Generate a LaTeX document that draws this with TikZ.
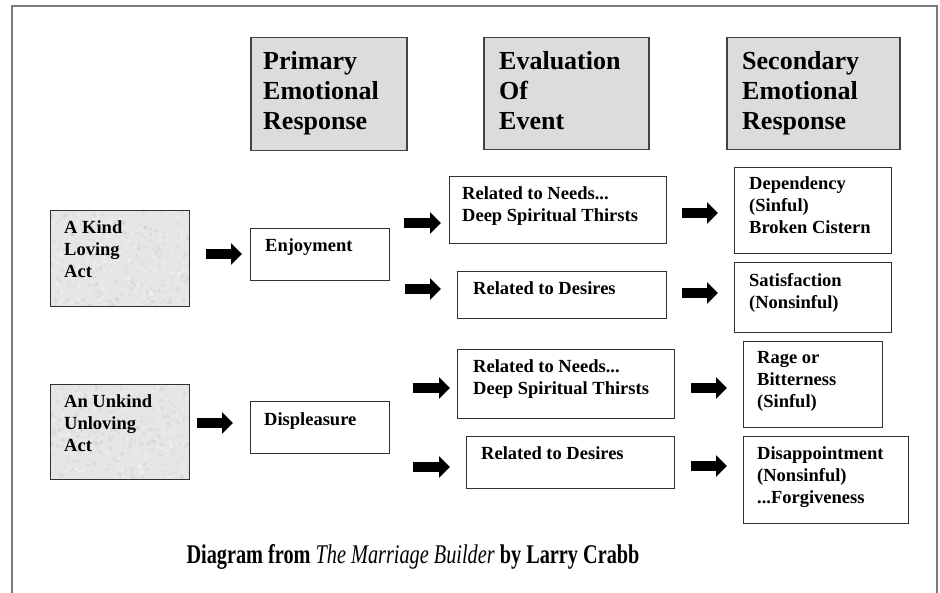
\documentclass[tikz,border=0pt]{standalone}
\usepackage{fontspec}
\setmainfont{Liberation Serif}
\usepackage{graphicx}
\usetikzlibrary{arrows.meta}
\definecolor{hdrfill}{HTML}{DCDCDC}
\definecolor{hdrline}{HTML}{3C463C}
\definecolor{boxline}{HTML}{303030}
\definecolor{framecol}{HTML}{7A7A7A}
\definecolor{stone}{HTML}{E6E6E6}
\begin{document}
\begin{tikzpicture}[x=1pt,y=-1pt,
  hdr/.style={draw=hdrline, fill=hdrfill, line width=1.5pt, inner sep=0pt, anchor=north west},
  box/.style={draw=boxline, fill=white, line width=1.4pt, inner sep=0pt, anchor=north west},
  stonebox/.style={draw=boxline, fill=stone, line width=1.4pt, inner sep=0pt, anchor=north west,
    path picture={
      \foreach \i in {1,...,900}{
        \pgfmathsetmacro\rx{140*rnd}
        \pgfmathsetmacro\ry{97*rnd}
        \pgfmathsetmacro\rr{0.6+1.6*rnd}
        \pgfmathtruncatemacro\rg{int(8+30*rnd)}
        \fill[gray!\rg, opacity=0.6] ([shift={(\rx,\ry)}]path picture bounding box.north west) circle (\rr);
      }
    }},
  hdrtxt/.style={anchor=base west, inner sep=0pt, font=\fontsize{26}{30}\selectfont\bfseries},
  txt/.style={anchor=base west, inner sep=0pt, font=\fontsize{18.5}{22}\selectfont\bfseries},
  blk/.style={line width=10pt, -{Triangle[length=11pt,width=21pt]}}
]
\useasboundingbox (0,0) rectangle (940,593);
\pgfmathsetseed{11}
% outer frame
\coordinate (fbl) at (12,593);
\coordinate (ftl) at (12,6);
\coordinate (ftr) at (937,6);
\coordinate (fbr) at (937,593);
\draw[framecol, line width=1.5pt] (fbl) -- (ftl) -- (ftr) -- (fbr);

% headers
\node[hdr, minimum width=156pt, minimum height=113pt] (h1) at (250,37) {};
\node[hdr, minimum width=165pt, minimum height=112pt] (h2) at (483,37) {};
\node[hdr, minimum width=173pt, minimum height=112pt] (h3) at (726,37) {};
\node[hdrtxt] (h1t) at (263,70) {\vtop{\hbox{Primary}\hbox{Emotional}\hbox{Response}}};
\node[hdrtxt] (h2t) at (499,70) {\vtop{\hbox{Evaluation}\hbox{Of}\hbox{Event}}};
\node[hdrtxt] (h3t) at (742,70) {\vtop{\hbox{Secondary}\hbox{Emotional}\hbox{Response}}};

% sources
\node[stonebox, minimum width=139pt, minimum height=96pt] (kind) at (50,210) {};
\node[stonebox, minimum width=139pt, minimum height=95pt] (unkind) at (50,384) {};
\node[txt] (kindt) at (64,234) {\vtop{\hbox{A Kind}\hbox{Loving}\hbox{Act}}};
\node[txt] (unkindt) at (64,408) {\vtop{\hbox{An Unkind}\hbox{Unloving}\hbox{Act}}};

% primary
\node[box, minimum width=139pt, minimum height=52pt] (enj) at (250,228) {};
\node[box, minimum width=139pt, minimum height=52pt] (dis) at (250,401) {};
\node[txt] (enjt) at (265,252) {Enjoyment};
\node[txt] (dist) at (264,426) {Displeasure};

% evaluation
\node[box, minimum width=217pt, minimum height=67pt] (n1) at (449,176) {};
\node[box, minimum width=209pt, minimum height=47pt] (d1) at (457,271) {};
\node[box, minimum width=217pt, minimum height=69pt] (n2) at (457,349) {};
\node[box, minimum width=208pt, minimum height=52pt] (d2) at (466,436) {};
\node[txt] (n1t) at (462,200) {\vtop{\hbox{Related to Needs...}\hbox{Deep Spiritual Thirsts}}};
\node[txt] (d1t) at (473,295) {Related to Desires};
\node[txt] (n2t) at (473,373) {\vtop{\hbox{Related to Needs...}\hbox{Deep Spiritual Thirsts}}};
\node[txt] (d2t) at (481,460) {Related to Desires};

% secondary
\node[box, minimum width=157pt, minimum height=86pt] (dep) at (734,167) {};
\node[box, minimum width=157pt, minimum height=70pt] (sat) at (734,262) {};
\node[box, minimum width=139pt, minimum height=86pt] (rage) at (743,341) {};
\node[box, minimum width=165pt, minimum height=87pt] (disap) at (743,436) {};
\node[txt] (dept) at (749,190) {\vtop{\hbox{Dependency}\hbox{(Sinful)}\hbox{Broken Cistern}}};
\node[txt] (satt) at (749,287) {\vtop{\hbox{Satisfaction}\hbox{(Nonsinful)}}};
\node[txt] (raget) at (757,364) {\vtop{\hbox{Rage or}\hbox{Bitterness}\hbox{(Sinful)}}};
\node[txt] (disapt) at (757,460) {\vtop{\hbox{Disappointment}\hbox{(Nonsinful)}\hbox{...Forgiveness}}};

% block arrows
\coordinate (a1s) at (206,254); \coordinate (a1e) at (242,254);
\coordinate (a2s) at (197,423); \coordinate (a2e) at (233,423);
\coordinate (a3s) at (404,223); \coordinate (a3e) at (441,223);
\coordinate (a4s) at (405,289); \coordinate (a4e) at (441,289);
\coordinate (a5s) at (413,388); \coordinate (a5e) at (450,388);
\coordinate (a6s) at (413,467); \coordinate (a6e) at (450,467);
\coordinate (a7s) at (682,213); \coordinate (a7e) at (718,213);
\coordinate (a8s) at (682,293); \coordinate (a8e) at (718,293);
\coordinate (a9s) at (691,388); \coordinate (a9e) at (727,388);
\coordinate (a10s) at (691,466); \coordinate (a10e) at (727,466);
\foreach \k in {1,...,10}{\draw[blk] (a\k s) -- (a\k e);}

% caption
\node[anchor=base, inner sep=0pt] (cap) at (413,563) {\resizebox{453pt}{\height}{\fontsize{27}{30}\selectfont\bfseries Diagram from {\mdseries\itshape The Marriage Builder} by Larry Crabb}};
\end{tikzpicture}
\end{document}
